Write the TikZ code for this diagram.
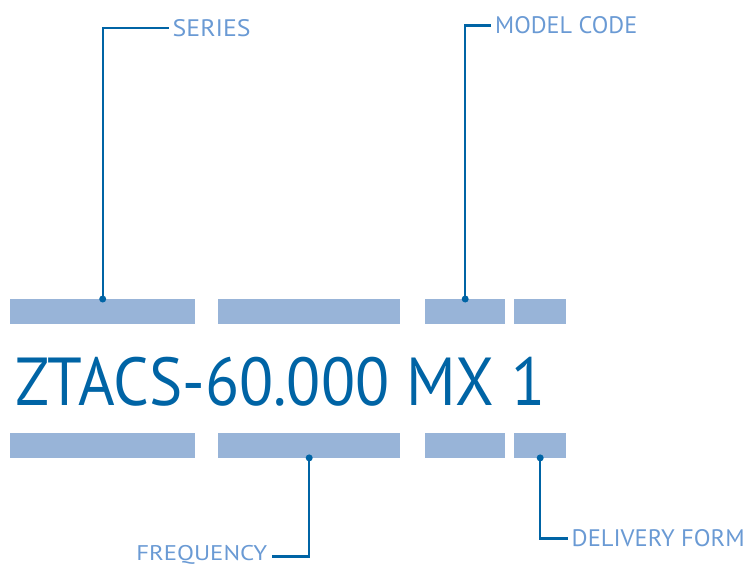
\documentclass[tikz,border=0pt]{standalone}
\usepackage{fontspec}
\setmainfont{PT Sans}
\usepackage{graphicx}
\definecolor{dblue}{RGB}{0,100,165}
\definecolor{lblue}{RGB}{106,154,212}
\definecolor{barblue}{RGB}{152,180,216}
\begin{document}
\begin{tikzpicture}[x=1pt,y=-1pt,
  bar/.style={fill=barblue,draw=none,inner sep=0pt,minimum height=25pt},
  lbl/.style={text=lblue,inner xsep=4pt,inner ysep=0pt},
  conn/.style={draw=dblue,line width=2.2pt},
  dotmark/.style={fill=dblue}]
\useasboundingbox (0,0) rectangle (749,565);
% top bars
\node[bar,minimum width=185pt,anchor=north west] (t1) at (10,299) {};
\node[bar,minimum width=182pt,anchor=north west] (t2) at (218,299) {};
\node[bar,minimum width=80pt,anchor=north west] (t3) at (425,299) {};
\node[bar,minimum width=52pt,anchor=north west] (t4) at (514,299) {};
% bottom bars
\node[bar,minimum width=185pt,anchor=north west] (b1) at (10,432.5) {};
\node[bar,minimum width=182pt,anchor=north west] (b2) at (218,432.5) {};
\node[bar,minimum width=80pt,anchor=north west] (b3) at (425,432.5) {};
\node[bar,minimum width=52pt,anchor=north west] (b4) at (514,432.5) {};
% code
\node[anchor=south west,inner sep=0pt,text=dblue] (code) at (15,406.7) {\resizebox{530pt}{48.3pt}{ZTACS-60.000 MX 1}};
% labels
\node[lbl,anchor=west] (series) at (168.5,28) {\resizebox{78pt}{17pt}{SERIES}};
\node[lbl,anchor=west] (model) at (491,25.5) {\resizebox{142pt}{17pt}{MODEL CODE}};
\node[lbl,anchor=south east] (freq) at (271.5,564.6) {\resizebox*{131pt}{19pt}{FREQUENCY}};
\node[lbl,anchor=west] (deliv) at (567.5,538.5) {\resizebox{173pt}{17pt}{DELIVERY FORM}};
\coordinate (freqend) at ([yshift=-1.5pt]freq.east);
% connectors
\draw[conn] (t1.north) |- (series.west);
\draw[conn] (t3.north) |- (model.west);
\draw[conn] (b2.south) |- (freqend);
\draw[conn] (b4.south) |- (deliv.west);
\fill[dotmark] (t1.north) circle (3.5pt);
\fill[dotmark] (t3.north) circle (3.5pt);
\fill[dotmark] (b2.south) circle (3.5pt);
\fill[dotmark] (b4.south) circle (3.5pt);
\end{tikzpicture}
\end{document}
